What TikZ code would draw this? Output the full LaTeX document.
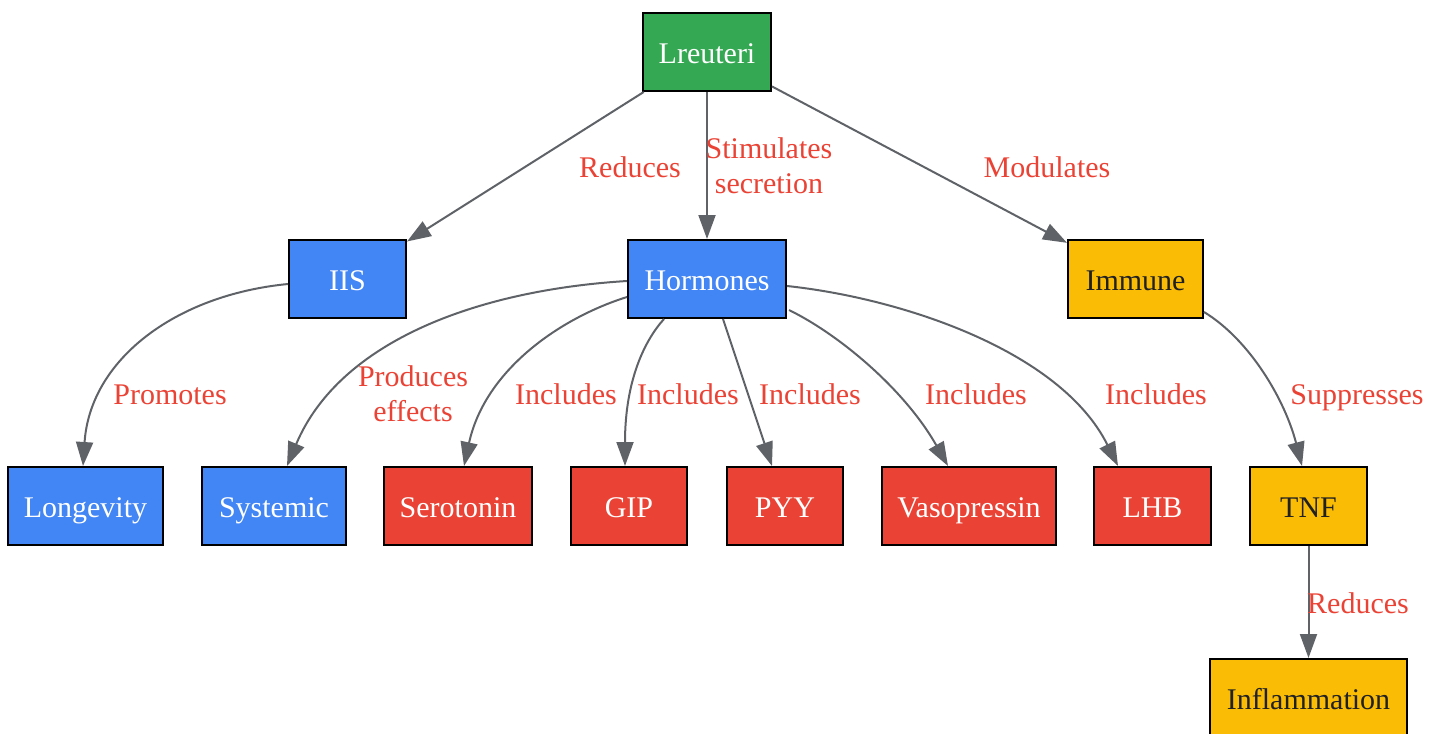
\documentclass[tikz,border=0pt]{standalone}
\usepackage{fontspec}
\setmainfont{Liberation Serif}
\usetikzlibrary{arrows.meta,calc}
\definecolor{gG}{HTML}{34A853}
\definecolor{gB}{HTML}{4285F4}
\definecolor{gR}{HTML}{EA4335}
\definecolor{gY}{HTML}{FBBC05}
\definecolor{edgec}{HTML}{5F6368}
\definecolor{darkt}{HTML}{202124}
\begin{document}
\begin{tikzpicture}[x=0.5pt,y=-0.5pt,
 box/.style={draw=black,line width=1pt,minimum height=39pt,inner sep=0pt,text height=14pt,text depth=3pt,font=\fontsize{15}{18}\selectfont},
 green/.style={box,fill=gG,text=white},
 blue/.style={box,fill=gB,text=white},
 red/.style={box,fill=gR,text=white},
 yellow/.style={box,fill=gY,text=darkt},
 edge/.style={draw=edgec,line width=1pt,-{Triangle[length=12pt,width=8.5pt]}},
 lab/.style={text=gR,font=\fontsize{15}{17.5}\selectfont,align=center,inner sep=0pt},
 lab1/.style={lab,text height=10pt,text depth=0pt}]
\useasboundingbox (0,0) rectangle (1442,734);
\node[green,minimum width=64pt] (L) at (707,52) {Lreuteri};
\node[blue,minimum width=58.5pt] (IIS) at (347.5,279) {IIS};
\node[blue,minimum width=79pt] (H) at (707,279) {Hormones};
\node[yellow,minimum width=67.5pt] (Im) at (1135.5,279) {Immune};
\node[blue,minimum width=77.5pt] (Lo) at (85.5,506) {Longevity};
\node[blue,minimum width=72pt] (Sy) at (274,506) {Systemic};
\node[red,minimum width=74pt] (Se) at (458,506) {Serotonin};
\node[red,minimum width=58pt] (G) at (629,506) {GIP};
\node[red,minimum width=58pt] (P) at (785,506) {PYY};
\node[red,minimum width=87pt] (V) at (969,506) {Vasopressin};
\node[red,minimum width=58.5pt] (LH) at (1152.5,506) {LHB};
\node[yellow,minimum width=58.5pt] (T) at (1308.5,506) {TNF};
\node[yellow,minimum width=98.5pt] (In) at (1308.5,698) {Inflammation};

\draw[edge] (L) -- (IIS);
\draw[edge] (L) -- (H);
\draw[edge] (L) -- (Im);
\draw[edge] ($(IIS.west)+(0,5)$) .. controls (175,295) and (90,360) .. ($(Lo.north)+(-2.5,0)$);
\draw[edge] ($(H.west)+(0,2)$) .. controls (480,290) and (340,340) .. ($(Sy.north)+(13,0)$);
\draw[edge] ($(H.west)+(0,18)$) .. controls (560,318) and (485,370) .. ($(Se.north)+(6,0)$);
\draw[edge] ($(H.south)+(-43,0)$) .. controls (645,340) and (625,380) .. ($(G.north)+(-4,0)$);
\draw[edge] ($(H.south)+(16,0)$) -- ($(P.north)+(-13,0)$);
\draw[edge] ($(H.east)+(2,31)$) .. controls (840,335) and (905,390) .. ($(V.north)+(-21,0)$);
\draw[edge] ($(H.east)+(0,7)$) .. controls (900,298) and (1060,350) .. ($(LH.north)+(-34.5,0)$);
\draw[edge] ($(Im.east)+(0,33)$) .. controls (1250,340) and (1285,400) .. ($(T.north)+(-6.5,0)$);
\draw[edge] (T) -- (In);

\node[lab1] (l1) at (630,167) {Reduces};
\node[lab] (l2) at (769,166) {Stimulates\\secretion};
\node[lab1] (l3) at (1047,167) {Modulates};
\node[lab1] (l4) at (170,394) {Promotes};
\node[lab] (l5) at (413,394) {Produces\\effects};
\node[lab1] (l6) at (566,394) {Includes};
\node[lab1] (l7) at (688,394) {Includes};
\node[lab1] (l8) at (810,394) {Includes};
\node[lab1] (l9) at (976,394) {Includes};
\node[lab1] (l10) at (1156,394) {Includes};
\node[lab1] (l11) at (1357,394) {Suppresses};
\node[lab1] (l12) at (1358,603) {Reduces};
\end{tikzpicture}
\end{document}
